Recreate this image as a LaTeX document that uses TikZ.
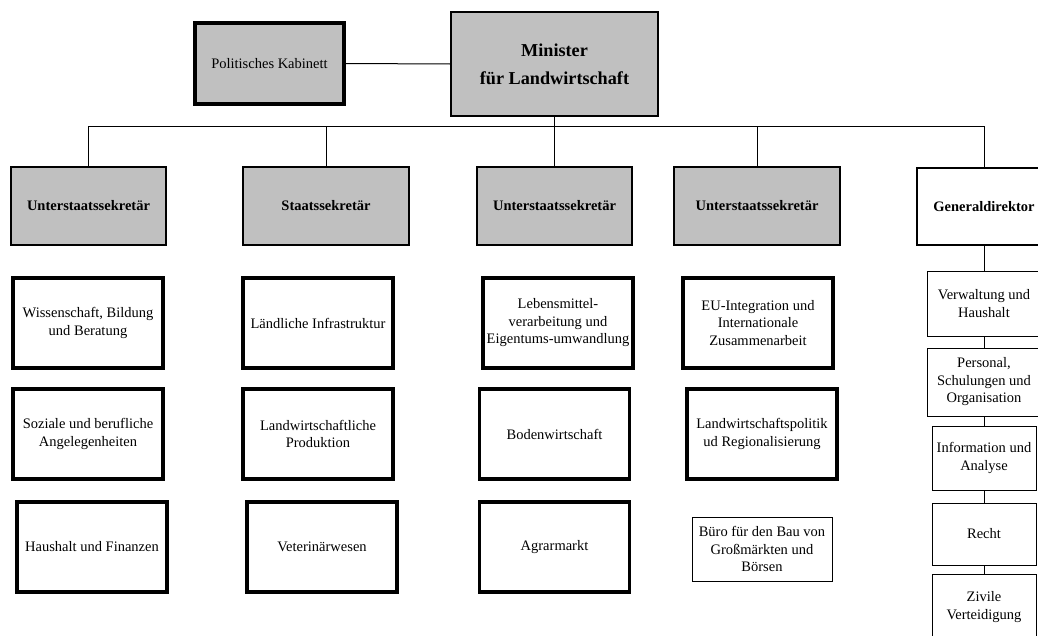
\documentclass[tikz,border=0pt]{standalone}
\usepackage{fontspec}
\setmainfont{Liberation Serif}
\definecolor{boxgray}{HTML}{C0C0C0}
\begin{document}
\begin{tikzpicture}[x=1pt,y=-1pt,
  base/.style={draw=black, rectangle, inner sep=0pt, align=center,
    font=\fontsize{14.5}{17.5}\selectfont},
  head/.style={base, fill=boxgray, line width=1.1pt,
    font=\fontsize{14.5}{17.5}\selectfont\bfseries,
    minimum height=78pt},
  unit/.style={base, fill=white, line width=3.6pt,
    minimum width=150pt, minimum height=90pt},
  office/.style={base, fill=white, line width=1pt},
  link/.style={draw=black, line width=1pt},
]
\useasboundingbox (0,0) rectangle (1038,635);
\clip (0,0) rectangle (1038,635);

% top level
\node[base, fill=boxgray, line width=4pt, minimum width=149pt, minimum height=81pt]
  (kab) at (269.5,63.5) {Politisches Kabinett};
\node[base, fill=boxgray, line width=1.1pt, minimum width=207pt, minimum height=104pt,
  font=\fontsize{18.2}{28}\selectfont\bfseries]
  (min) at (554.5,64) {Minister\\für Landwirtschaft};

% second level
\node[head, minimum width=155pt] (c1) at (88.5,206) {Unterstaatssekretär};
\node[head, minimum width=166pt] (c2) at (326,206) {Staatssekretär};
\node[head, minimum width=155pt] (c3) at (554.5,206) {Unterstaatssekretär};
\node[head, minimum width=166pt] (c4) at (757,206) {Unterstaatssekretär};
\node[head, fill=white, minimum width=134pt, minimum height=77pt] (gd) at (984,206.5) {Generaldirektor};

% departments, first row
\node[unit] (r11) at (88,323) {Wissenschaft, Bildung\\und Beratung};
\node[unit] (r12) at (318,323) {Ländliche Infrastruktur};
\node[unit] (r13) at (558,323) {Lebensmittel-\\verarbeitung und\\Eigentums-umwandlung};
\node[unit] (r14) at (758,323) {EU-Integration und\\Internationale\\Zusammenarbeit};

% departments, second row
\node[unit] (r21) at (88,434) {Soziale und berufliche\\Angelegenheiten};
\node[unit] (r22) at (318,434) {Landwirtschaftliche\\Produktion};
\node[unit] (r23) at (554.5,434) {Bodenwirtschaft};
\node[unit] (r24) at (762,434) {Landwirtschaftspolitik\\ud Regionalisierung};

% departments, third row
\node[unit] (r31) at (92,547) {Haushalt und Finanzen};
\node[unit] (r32) at (322,547) {Veterinärwesen};
\node[unit] (r33) at (554.5,547) {Agrarmarkt};
\node[office, minimum width=140pt, minimum height=64pt] (r34) at (762,549)
  {Büro für den Bau von\\Großmärkten und\\Börsen};

% offices under the director general
\node[office, minimum width=114pt, minimum height=65pt] (v1) at (984,303.5) {Verwaltung und\\Haushalt};
\node[office, minimum width=114pt, minimum height=68pt] (v2) at (984,382) {Personal,\\Schulungen und\\Organisation};
\node[office, minimum width=104pt, minimum height=64pt] (v3) at (984,458) {Information und\\Analyse};
\node[office, minimum width=104pt, minimum height=62pt] (v4) at (984,534) {Recht};
\node[office, minimum width=104pt, minimum height=66pt] (v5) at (984,607) {Zivile\\Verteidigung};

% connectors
\draw[link] (kab.east) -- (min.west);
\coordinate (bus) at (0,126);
\draw[link] (c1.north) |- (bus -| gd.north) -- (gd.north);
\draw[link] (c2.north) -- (c2.north |- bus);
\draw[link] (min.south) -- (c3.north);
\draw[link] (c4.north) -- (c4.north |- bus);
\draw[link] (gd.south) -- (v1.north);
\draw[link] (v1.south) -- (v2.north);
\draw[link] (v2.south) -- (v3.north);
\draw[link] (v3.south) -- (v4.north);
\draw[link] (v4.south) -- (v5.north);
\end{tikzpicture}
\end{document}
